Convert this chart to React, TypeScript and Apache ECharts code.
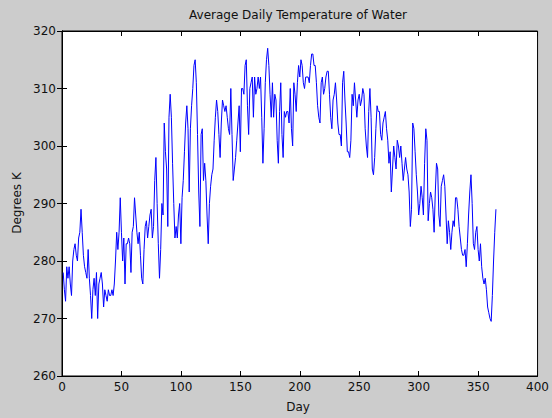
import { useEffect, useRef } from "react";
import * as echarts from "echarts";

// Mean daily water temperature (K), one value per day of the year, day 1..365
const temperatureK: number[] = [
  278, 275, 273, 279, 277, 279, 276, 274, 280, 282,
  283, 281, 280, 284, 285, 289, 285, 281, 279, 278,
  277, 282, 277, 274, 270, 275, 277, 274, 278, 270,
  276, 277, 278, 276, 272, 275, 274, 273, 275, 274,
  274, 275, 274, 276, 280, 285, 282, 285, 291, 285,
  280, 284, 276, 283, 283, 284, 283, 278, 285, 286,
  291, 288, 285, 283, 285, 281, 277, 276, 282, 286,
  287, 284, 286, 288, 289, 284, 286, 294, 298, 290,
  283, 277, 282, 290, 288, 304, 299, 296, 286, 305,
  309, 305, 297, 290, 284, 286, 284, 288, 290, 283,
  291, 294, 299, 304, 307, 303, 292, 303, 307, 310,
  314, 315, 311, 302, 292, 286, 302, 303, 294, 297,
  294, 288, 283, 290, 293, 295, 296, 301, 305, 308,
  306, 302, 298, 304, 308, 307, 306, 307, 305, 303,
  302, 310, 302, 294, 296, 298, 301, 304, 307, 299,
  310, 310, 309, 314, 315, 307, 302, 310, 311, 312,
  305, 312, 309, 310, 312, 310, 312, 305, 297, 303,
  311, 315, 317, 314, 309, 305, 311, 305, 309, 308,
  301, 297, 306, 311, 302, 298, 306, 305, 306, 306,
  304, 310, 303, 300, 311, 309, 306, 311, 314, 312,
  315, 314, 311, 310, 312, 312, 312, 311, 314, 316,
  316, 314, 314, 311, 307, 305, 304, 311, 312, 309,
  310, 312, 313, 313, 309, 305, 303, 308, 309, 311,
  308, 304, 302, 302, 300, 311, 313, 308, 304, 299,
  299, 298, 301, 309, 307, 311, 308, 305, 308, 309,
  307, 308, 310, 309, 303, 300, 298, 306, 310, 305,
  296, 295, 298, 303, 307, 306, 306, 302, 301, 304,
  305, 306, 303, 301, 297, 299, 292, 296, 300, 298,
  296, 301, 300, 298, 300, 297, 294, 296, 298, 296,
  295, 292, 286, 289, 304, 303, 299, 295, 292, 288,
  290, 293, 291, 288, 297, 303, 301, 287, 290, 292,
  291, 289, 285, 292, 297, 296, 288, 286, 293, 294,
  295, 293, 288, 283, 287, 285, 282, 285, 287, 286,
  291, 291, 289, 286, 284, 282, 281, 281, 282, 279,
  283, 288, 292, 295, 290, 283, 282, 285, 286, 282,
  280, 283, 279, 277, 276, 277, 275, 272, 271, 270,
  269.5, 274, 280, 285, 289,
];

const xTicks = { min: 0, max: 400, interval: 50 };
const yTicks = { min: 260, max: 320, interval: 10 };

const FONT = "'DejaVu Sans', Verdana, sans-serif";

export default function App() {
  const ref = useRef<HTMLDivElement>(null);

  useEffect(() => {
    if (!ref.current) return;
    const chart = echarts.init(ref.current, undefined, { renderer: "svg" });

    const points = temperatureK.map((t, i) => [i + 1, t]);
    const tick = { inside: true, length: 5, lineStyle: { color: "#000", width: 1 } };
    const line = { show: true, lineStyle: { color: "#000", width: 1 } };
    const label = { color: "#111", fontSize: 12, fontFamily: FONT };
    const textStyle = (text: string) => ({
      text,
      fill: "#111",
      font: `12px ${FONT}`,
      textAlign: "center",
      textVerticalAlign: "middle",
    });

    chart.setOption({
      animation: false,
      backgroundColor: "#cccccc",
      grid: {
        left: 62,
        right: 14,
        top: 31,
        bottom: 42,
        show: true,
        backgroundColor: "#ffffff",
        borderColor: "#000",
        borderWidth: 1,
      },
      xAxis: [
        {
          type: "value",
          position: "bottom",
          ...xTicks,
          axisLine: line,
          axisTick: tick,
          axisLabel: { ...label, margin: 5 },
          splitLine: { show: false },
        },
        {
          type: "value",
          position: "top",
          ...xTicks,
          axisLine: line,
          axisTick: tick,
          axisLabel: { show: false },
          splitLine: { show: false },
        },
      ],
      yAxis: [
        {
          type: "value",
          position: "left",
          ...yTicks,
          axisLine: line,
          axisTick: tick,
          axisLabel: { ...label, margin: 6 },
          splitLine: { show: false },
        },
        {
          type: "value",
          position: "right",
          ...yTicks,
          axisLine: line,
          axisTick: tick,
          axisLabel: { show: false },
          splitLine: { show: false },
        },
      ],
      graphic: [
        { type: "text", x: 298, y: 15, style: textStyle("Average Daily Temperature of Water") },
        { type: "text", x: 298, y: 407, style: textStyle("Day") },
        { type: "text", x: 17, y: 203, rotation: Math.PI / 2, style: textStyle("Degrees K") },
      ],
      series: [
        {
          type: "line",
          data: points,
          xAxisIndex: 0,
          yAxisIndex: 0,
          showSymbol: false,
          symbol: "none",
          lineStyle: { color: "#0000ff", width: 1 },
        },
      ],
    });

    return () => chart.dispose();
  }, []);

  return (
    <div
      ref={ref}
      style={{ position: "fixed", left: 0, top: 0, width: 552, height: 418 }}
    />
  );
}
